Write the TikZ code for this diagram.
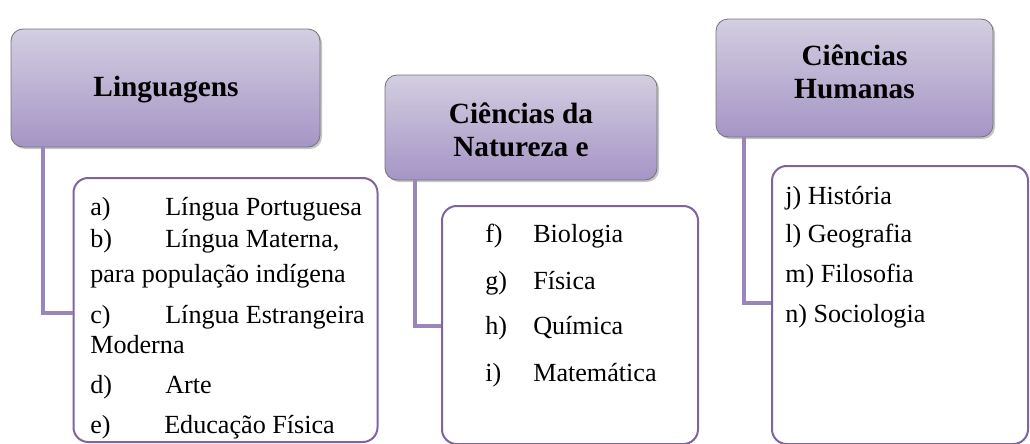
\documentclass[tikz,border=0pt]{standalone}
\usepackage{fontspec}
\setmainfont{Liberation Serif}
\usetikzlibrary{shadows}
\definecolor{hdtop}{HTML}{D3CEE0}
\definecolor{hdbot}{HTML}{A595C6}
\definecolor{connc}{HTML}{9A86BC}
\definecolor{lbord}{HTML}{8064A2}
\begin{document}
\begin{tikzpicture}[x=0.75pt,y=-0.75pt,
  header/.style={draw=black!55, line width=0.6pt, rounded corners=9pt,
    top color=hdtop, bottom color=hdbot, inner sep=0pt,
    drop shadow={shadow xshift=1.5pt, shadow yshift=-1.5pt, fill=black!45, opacity=0.5}},
  listbox/.style={draw=lbord, line width=1.5pt, rounded corners=11pt, fill=white, inner sep=0pt},
  connline/.style={draw=connc, line width=3.5pt},
  htext/.style={font=\fontsize{22}{25}\selectfont\bfseries, align=center, inner sep=0pt},
  itext/.style={font=\fontsize{19.6}{22}\selectfont, anchor=base west, inner sep=0pt}
]
\useasboundingbox (0,0) rectangle (1030,443);
% list boxes
\node[listbox, minimum width=228pt, minimum height=198pt] (l1) at (225.5,310) {};
\node[listbox, minimum width=192pt, minimum height=178.5pt] (l2) at (570,325) {};
\node[listbox, minimum width=192pt, minimum height=208.5pt] (l3) at (900,305) {};
% headers
\node[header, minimum width=231.75pt, minimum height=88.5pt] (h1) at (165.5,88) {};
\node[header, minimum width=204pt, minimum height=78.75pt] (h2) at (521,127.5) {};
\node[header, minimum width=207.75pt, minimum height=88.5pt] (h3) at (854.5,78) {};
% header texts
\node[htext] (t1) at (166,90) {Linguagens};
\node[htext] (t2) at (521,130) {Ciências da\\Natureza e};
\node[htext] (t3) at (854.5,72) {Ciências\\Humanas};
% connectors
\coordinate (j1) at (43,313);
\coordinate (j2) at (415,326);
\coordinate (j3) at (744,303);
\draw[connline] (h1.south -| j1) |- (l1.west |- j1);
\draw[connline] (h2.south -| j2) |- (l2.west |- j2);
\draw[connline] (h3.south -| j3) |- (l3.west |- j3);
% list 1
\node[itext] (a1) at (90,215) {a)};
\node[itext] (a2) at (165,215) {Língua Portuguesa};
\node[itext] (b1) at (90,247) {b)};
\node[itext] (b2) at (165,247) {Língua Materna,};
\node[itext] (b3) at (90,282) {para população indígena};
\node[itext] (c1) at (90,323) {c)};
\node[itext] (c2) at (165,323) {Língua Estrangeira};
\node[itext] (c3) at (90,353) {Moderna};
\node[itext] (d1) at (90,393) {d)};
\node[itext] (d2) at (165,393) {Arte};
\node[itext] (e1) at (90,433) {e)};
\node[itext] (e2) at (164,433) {Educação Física};
% list 2
\node[itext] (f1) at (485,242) {f)};
\node[itext] (f2) at (533,242) {Biologia};
\node[itext] (g1) at (485,289) {g)};
\node[itext] (g2) at (533,289) {Física};
\node[itext] (hh1) at (485,334) {h)};
\node[itext] (hh2) at (533,334) {Química};
\node[itext] (i1) at (485,381) {i)};
\node[itext] (i2) at (533,381) {Matemática};
% list 3
\node[itext] (jj) at (785,204) {j) História};
\node[itext] (ll) at (785,242) {l) Geografia};
\node[itext] (mm) at (785,282) {m) Filosofia};
\node[itext] (nn) at (785,322) {n) Sociologia};
\end{tikzpicture}
\end{document}
